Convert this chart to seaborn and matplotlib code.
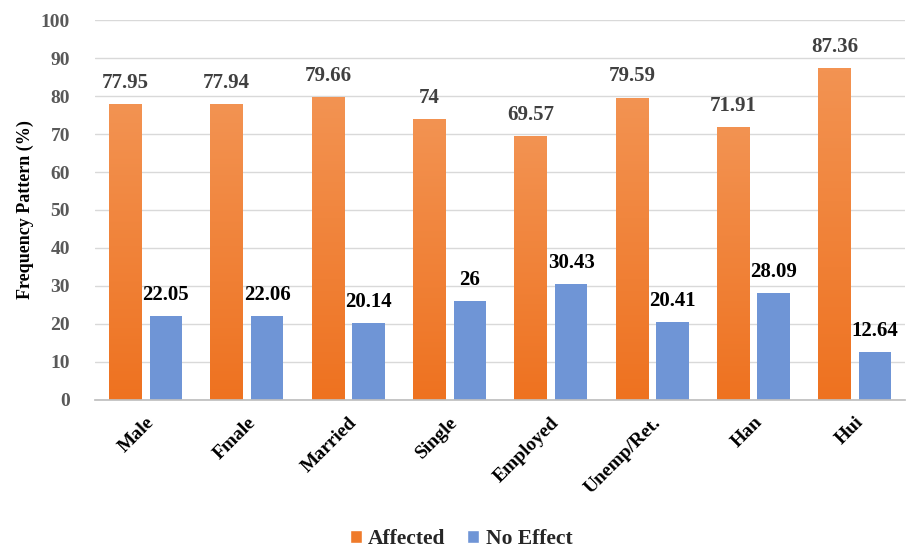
import numpy as np
import pandas as pd
import matplotlib
matplotlib.use("Agg")
import matplotlib.pyplot as plt
import seaborn as sns
from matplotlib.colors import LinearSegmentedColormap
from matplotlib.patches import Patch

categories = ["Male", "Fmale", "Married", "Single", "Employed", "Unemp/Ret.", "Han", "Hui"]
affected = [77.95, 77.94, 79.66, 74, 69.57, 79.59, 71.91, 87.36]
no_effect = [22.05, 22.06, 20.14, 26, 30.43, 20.41, 28.09, 12.64]
series_names = ["Affected", "No Effect"]

df = pd.DataFrame({
    "Group": categories * 2,
    "Series": [series_names[0]] * len(categories) + [series_names[1]] * len(categories),
    "Value": affected + no_effect,
})

sns.set_theme(style="white")
plt.rcParams["font.family"] = ["Liberation Serif", "DejaVu Serif"]

orange = "#EF7B2B"
blue = "#6F95D6"

fig = plt.figure(figsize=(9.22, 5.57), dpi=100)
ax = fig.add_axes([0.103, 0.282, 0.879, 0.682])

sns.barplot(data=df, x="Group", y="Value", hue="Series", order=categories,
            hue_order=series_names, palette=[orange, blue], width=0.8, gap=0.2,
            saturation=1, legend=False, ax=ax, zorder=3)

# vertical gradient on the orange bars
grad = LinearSegmentedColormap.from_list("og", ["#EE7220", "#F39352"])
for bar in ax.patches[:len(categories)]:
    x0, y0 = bar.get_x(), bar.get_y()
    w, h = bar.get_width(), bar.get_height()
    img = ax.imshow(np.linspace(0, 1, 100).reshape(-1, 1), cmap=grad, aspect="auto",
                    origin="lower", extent=[x0, x0 + w, y0, y0 + h], zorder=3.5)
    img.set_clip_path(bar)
for bar in ax.patches:
    bar.set_edgecolor("none")

# value labels
for bar, v in zip(ax.patches[:len(categories)], affected):
    ax.annotate(f"{v:g}", (bar.get_x() + bar.get_width() / 2, v), xytext=(0, 8),
                textcoords="offset points", ha="center", va="bottom",
                fontsize=15, fontweight="bold", color="#404040", zorder=5)
for bar, v in zip(ax.patches[len(categories):2 * len(categories)], no_effect):
    ax.annotate(f"{v:g}", (bar.get_x() + bar.get_width() / 2, v), xytext=(0, 8),
                textcoords="offset points", ha="center", va="bottom",
                fontsize=15, fontweight="bold", color="black", zorder=5)

ax.set_xlim(-0.5, len(categories) - 0.5)
ax.set_ylim(0, 100)
ax.set_yticks(range(0, 101, 10))
ax.yaxis.grid(True, color="#D9D9D9", linewidth=1, zorder=0)
ax.set_axisbelow(True)
for s in ["top", "right", "left"]:
    ax.spines[s].set_visible(False)
ax.spines["bottom"].set_color("#BFBFBF")
ax.spines["bottom"].set_zorder(6)
ax.tick_params(axis="both", length=0)
ax.tick_params(axis="y", pad=18)
for t in ax.get_yticklabels():
    t.set_fontsize(14)
    t.set_fontweight("bold")
    t.set_color("#595959")
ax.set_xticks(range(len(categories)))
ax.set_xticklabels(categories, rotation=45, ha="right", rotation_mode="anchor",
                   fontsize=14, fontweight="bold", color="black")
ax.tick_params(axis="x", pad=10)
ax.set_xlabel("")
ax.set_ylabel("Frequency Pattern (%)", fontsize=13, fontweight="bold", color="black",
              labelpad=5)

handles = [Patch(facecolor=orange, label="Affected"), Patch(facecolor=blue, label="No Effect")]
fig.legend(handles=handles, loc="lower center", bbox_to_anchor=(0.5, -0.02), ncol=2,
           frameon=False, prop={"size": 15.5, "weight": "bold"}, handlelength=0.55,
           handleheight=0.55, handletextpad=0.3, columnspacing=1.0)

fig.savefig("out.png", dpi=100, facecolor="white")
